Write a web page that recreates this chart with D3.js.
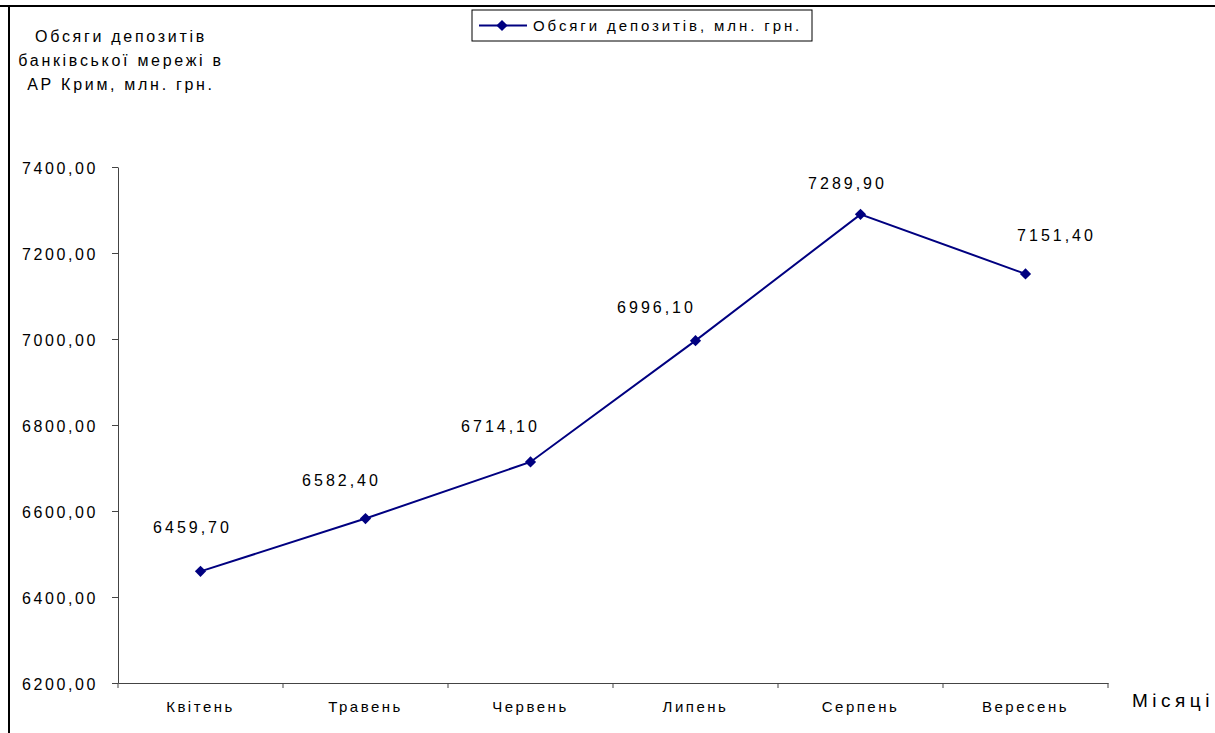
<!DOCTYPE html>
<html>
<head>
<meta charset="utf-8">
<script src="https://cdn.jsdelivr.net/npm/d3@7"></script>
<style>
  body { margin: 0; background: #fff; }
  svg text { font-family: "Liberation Sans", Arial, sans-serif; fill: #000; }
  .axis path, .axis line { stroke: #444; }
</style>
</head>
<body>
<svg id="chart" width="1215" height="733"></svg>
<script>
var months = ["Квітень", "Травень", "Червень", "Липень", "Серпень", "Вересень"];
var deposits = [6459.70, 6582.40, 6714.10, 6996.10, 7289.90, 7151.40];
var yTicks = [6200, 6400, 6600, 6800, 7000, 7200, 7400];
var seriesName = "Обсяги депозитів, млн. грн.";
var yTitle = ["Обсяги депозитів", "банківської мережі в", "АР Крим, млн. грн."];
var xTitle = "Місяці";

// where Excel put each data label, relative to its point
var labelShift = [[-8, -38], [-24, -33], [-30, -30], [-39, -28], [-13, -25], [31, -33]];

var svg = d3.select("#chart");
var fmt = d => d.toFixed(2).replace(".", ",");

// frame of the embedded chart
svg.append("line").attr("x1", 0).attr("x2", 1215).attr("y1", 6).attr("y2", 6)
    .attr("stroke", "#000").attr("stroke-width", 2);
svg.append("line").attr("x1", 9).attr("x2", 9).attr("y1", 6).attr("y2", 733)
    .attr("stroke", "#000").attr("stroke-width", 2);

var x = d3.scaleBand().domain(months).range([118, 1108]).padding(0);
var y = d3.scaleLinear().domain([6200, 7400]).range([683, 167]);

// y axis
var gy = svg.append("g").attr("class", "axis")
    .attr("transform", "translate(118,0)")
    .call(d3.axisLeft(y).tickValues(yTicks).tickSize(6).tickSizeOuter(0).tickPadding(14).tickFormat(fmt));
gy.selectAll("text").style("font-size", "16px").attr("letter-spacing", "2.6px").attr("dy", "0.4em");

// x axis: labels at band centres, ticks at band edges
var gx = svg.append("g").attr("class", "axis")
    .attr("transform", "translate(0,683)")
    .call(d3.axisBottom(x).tickSize(0).tickSizeOuter(0).tickPadding(18));
gx.selectAll("text").style("font-size", "15px").attr("letter-spacing", "2.5px");
gx.selectAll(".edge")
    .data(months.map(m => x(m)).concat([x.range()[1]]))
    .enter().append("line")
    .attr("class", "edge")
    .attr("x1", d => d).attr("x2", d => d)
    .attr("y1", 0).attr("y2", 5);

// series
var pts = months.map((m, i) => ({m: m, v: deposits[i], i: i}));
var line = d3.line().x(d => x(d.m) + x.bandwidth() / 2).y(d => y(d.v));
svg.append("path").datum(pts)
    .attr("d", line)
    .attr("fill", "none")
    .attr("stroke", "#000080")
    .attr("stroke-width", 2);

var diamond = d3.symbol().type(d3.symbolDiamond2).size(80);
svg.selectAll(".pt").data(pts).enter().append("path")
    .attr("class", "pt")
    .attr("d", diamond)
    .attr("transform", d => "translate(" + (x(d.m) + x.bandwidth() / 2) + "," + y(d.v) + ")")
    .attr("fill", "#000080");

svg.selectAll(".lbl").data(pts).enter().append("text")
    .attr("class", "lbl")
    .attr("x", d => x(d.m) + x.bandwidth() / 2 + labelShift[d.i][0])
    .attr("y", d => y(d.v) + labelShift[d.i][1])
    .attr("text-anchor", "middle")
    .attr("letter-spacing", "3px")
    .style("font-size", "16px")
    .text(d => fmt(d.v));

// axis titles
svg.append("g").selectAll("text").data(yTitle).enter().append("text")
    .attr("x", 121)
    .attr("y", (d, i) => 42 + i * 24)
    .attr("text-anchor", "middle")
    .attr("letter-spacing", "2.7px")
    .style("font-size", "16px")
    .text(d => d);

svg.append("text")
    .attr("x", 1132).attr("y", 707)
    .attr("letter-spacing", "4.5px")
    .style("font-size", "19px")
    .text(xTitle);

// legend
var lg = svg.append("g").attr("transform", "translate(472,10)");
lg.append("rect").attr("width", 340).attr("height", 31)
    .attr("fill", "#fff").attr("stroke", "#000").attr("stroke-width", 1);
lg.append("line").attr("x1", 7).attr("x2", 55).attr("y1", 15.5).attr("y2", 15.5)
    .attr("stroke", "#000080").attr("stroke-width", 2);
lg.append("path").attr("d", diamond).attr("transform", "translate(30,15.5)").attr("fill", "#000080");
lg.append("text").attr("x", 61).attr("y", 21)
    .attr("letter-spacing", "2.9px")
    .style("font-size", "15px")
    .text(seriesName);
</script>
</body>
</html>
